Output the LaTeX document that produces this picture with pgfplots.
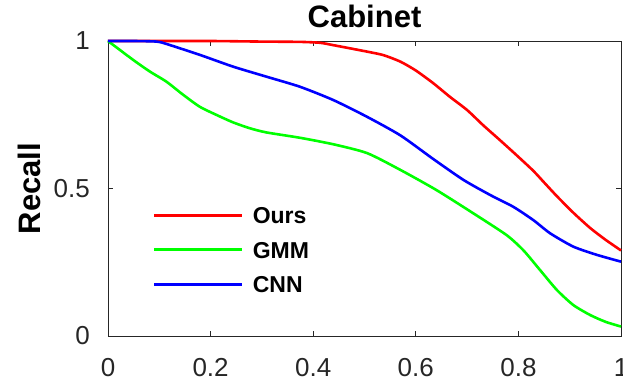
\documentclass[border=0pt]{standalone}
\usepackage{fontspec}
\setmainfont{Liberation Sans}
\usepackage{pgfplots}
\pgfplotsset{compat=1.18}
\definecolor{axgray}{RGB}{38,38,38}
\begin{document}
\begin{tikzpicture}
\begin{axis}[
  scale only axis,
  width=513pt, height=295pt,
  xmin=0, xmax=1, ymin=0, ymax=1,
  xtick={0,0.2,0.4,0.6,0.8,1},
  ytick={0,0.5,1},
  xticklabels={0,0.2,0.4,0.6,0.8,1},
  yticklabels={0,0.5,1},
  tick align=inside,
  major tick length=5pt,
  axis line style={axgray, line width=0.9pt},
  every tick/.style={axgray, line width=0.9pt},
  tick label style={font=\fontsize{26}{30}\selectfont, text=axgray, inner sep=0pt},
  yticklabel style={xshift=-18pt},
  xticklabel style={yshift=-22pt},
  /pgf/number format/assume math mode=true,
  title={\textbf{Cabinet}},
  title style={at={(axis description cs:0.5,1)}, anchor=base, yshift=8pt, inner sep=0pt, font=\fontsize{31}{36}\selectfont},
  ylabel={\textbf{Recall}},
  ylabel style={at={(axis description cs:0,0.5)}, anchor=center, yshift=79pt, inner sep=0pt, font=\fontsize{31}{36}\selectfont},
  legend cell align=left,
  legend image code/.code={\draw[#1] (0pt,0pt) -- (88pt,0pt);},
  legend style={at={(rel axis cs:0.0877,0.439)}, anchor=north west, draw=none, fill=none, inner sep=0pt,
    font=\fontsize{23}{27}\selectfont\bfseries, row sep=17.5pt, column sep=9pt,
    nodes={inner sep=0pt, text height=17pt, text depth=0pt}},
  clip=false,
]
\addplot[red, line width=2.6pt, smooth, tension=0.4] coordinates {
(0,1) (0.1,1) (0.2,1) (0.3,0.998) (0.374,0.997) (0.413,0.994) (0.439,0.986) (0.505,0.964) (0.537,0.952)
(0.57,0.93) (0.6,0.90) (0.634,0.857) (0.667,0.81) (0.70,0.766) (0.731,0.715) (0.764,0.664)
(0.797,0.612) (0.829,0.56) (0.853,0.515) (0.875,0.474) (0.907,0.418) (0.94,0.366) (0.97,0.326) (1,0.29)};
\addlegendentry{Ours}
\addplot[green, line width=2.6pt, smooth, tension=0.4] coordinates {
(0,1) (0.049,0.936) (0.082,0.896) (0.114,0.862) (0.147,0.817) (0.179,0.777) (0.212,0.749)
(0.244,0.724) (0.277,0.704) (0.309,0.69) (0.374,0.672) (0.439,0.65) (0.505,0.62) (0.57,0.563)
(0.64,0.495) (0.712,0.416) (0.777,0.342) (0.81,0.29) (0.842,0.224) (0.875,0.156) (0.907,0.105)
(0.94,0.071) (0.97,0.048) (1,0.032)};
\addlegendentry{GMM}
\addplot[blue, line width=2.6pt, smooth, tension=0.4] coordinates {
(0,1) (0.05,1) (0.095,0.998) (0.114,0.99) (0.179,0.953) (0.244,0.913) (0.309,0.879) (0.374,0.845)
(0.439,0.80) (0.505,0.743) (0.57,0.68) (0.634,0.60) (0.693,0.529) (0.745,0.478) (0.79,0.438)
(0.829,0.393) (0.862,0.348) (0.907,0.303) (0.953,0.275) (1,0.252)};
\addlegendentry{CNN}
\coordinate (SW) at (rel axis cs:0,0);
\coordinate (NE) at (rel axis cs:1,1);
\end{axis}
\pgfresetboundingbox
\path[use as bounding box] ([shift={(-108pt,-45pt)}]SW) rectangle ([shift={(2pt,41pt)}]NE);
\end{tikzpicture}
\end{document}
